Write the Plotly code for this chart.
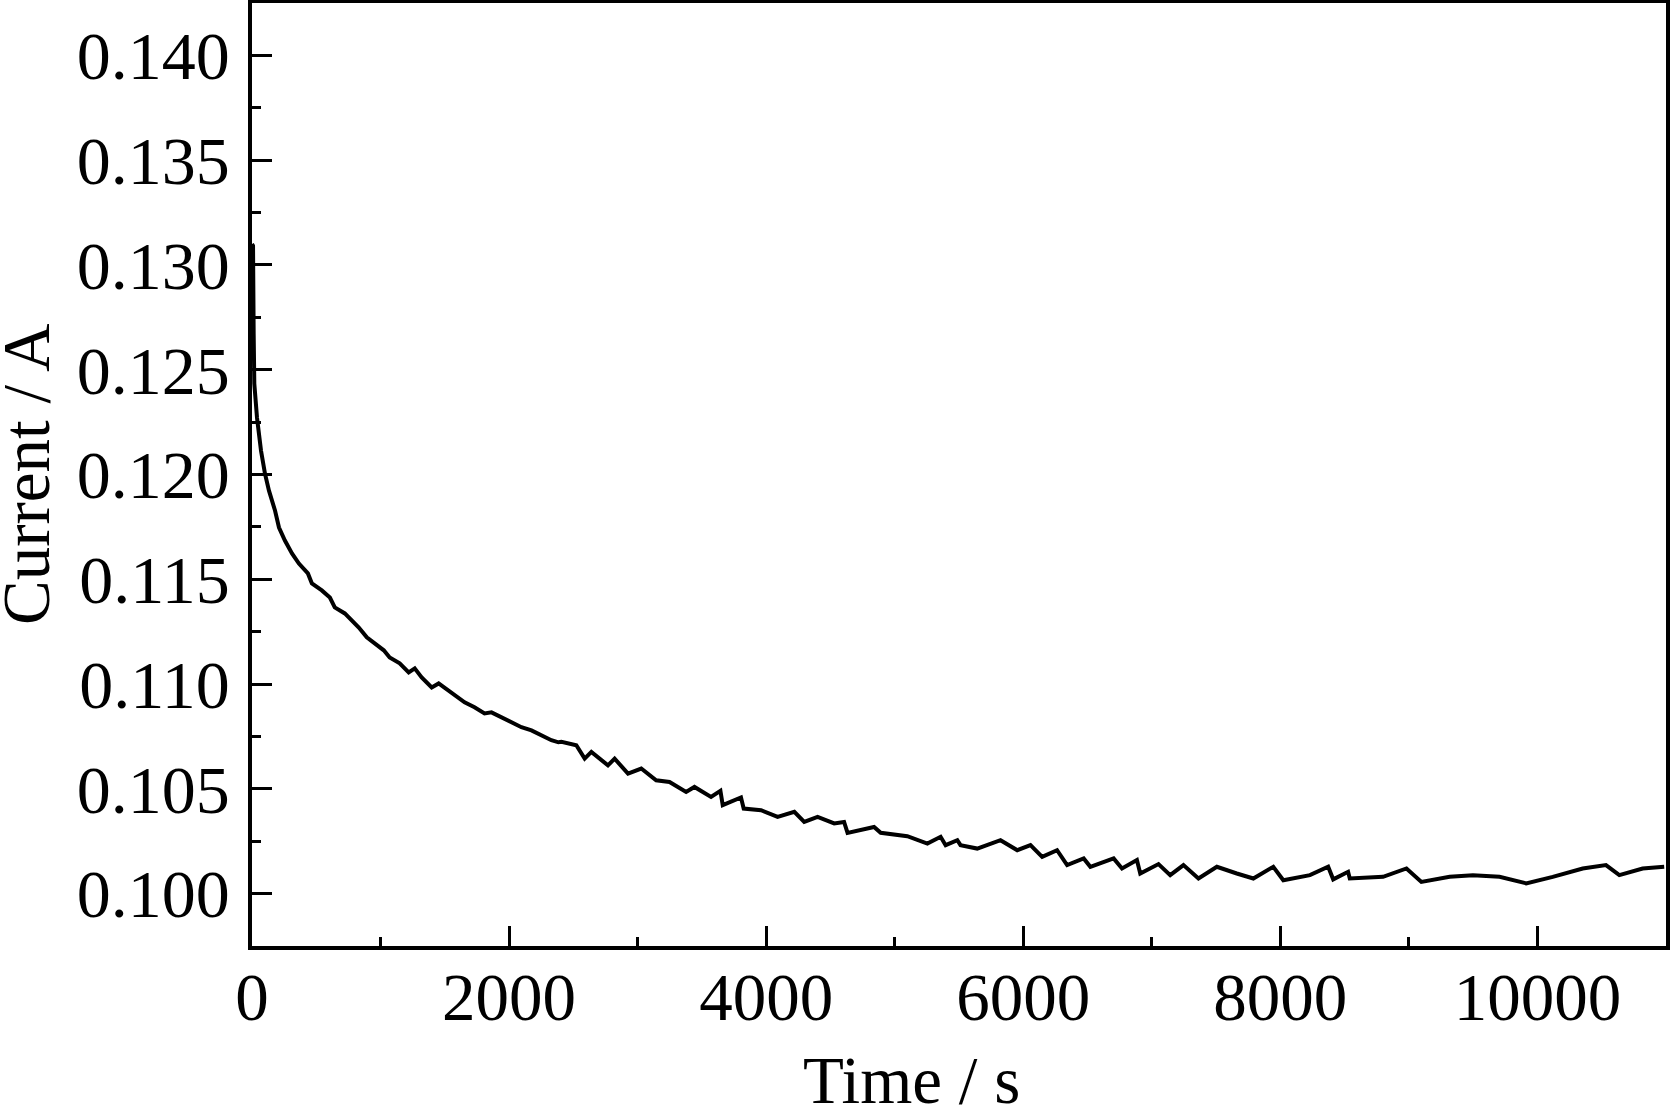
import plotly.graph_objects as go

time_s = [0, 8, 13, 18, 39, 70, 101, 132, 179, 210, 256, 311, 365, 435, 466, 543, 606, 644, 722, 776,
          831, 893, 955, 1025, 1071, 1149, 1219, 1266, 1320, 1398, 1452, 1530, 1607, 1654, 1731, 1809,
          1863, 1941, 2019, 2096, 2174, 2252, 2329, 2384, 2407, 2523, 2588, 2640, 2769, 2821, 2925,
          3028, 3144, 3248, 3377, 3442, 3571, 3644, 3662, 3804, 3825, 3960, 4089, 4219, 4296, 4400,
          4529, 4606, 4633, 4839, 4891, 5098, 5254, 5357, 5396, 5487, 5512, 5642, 5823, 5953, 6056,
          6147, 6263, 6341, 6470, 6522, 6703, 6768, 6884, 6910, 7052, 7143, 7246, 7363, 7506, 7661,
          7790, 7945, 8023, 8230, 8372, 8411, 8527, 8540, 8799, 8981, 9097, 9317, 9498, 9705, 9912,
          10119, 10352, 10533, 10637, 10818, 10986]

current_a = [0.1310, 0.13091, 0.12672, 0.12433, 0.12271, 0.12114, 0.12004, 0.11923, 0.11828, 0.11747,
             0.11685, 0.11623, 0.11575, 0.11528, 0.11480, 0.11447, 0.11413, 0.11366, 0.11337, 0.11304,
             0.11270, 0.11223, 0.11194, 0.11161, 0.11127, 0.11099, 0.11056, 0.11075, 0.11032, 0.10984,
             0.11003, 0.10970, 0.10937, 0.10913, 0.10889, 0.10860, 0.10865, 0.10841, 0.10817, 0.10794,
             0.10779, 0.10755, 0.10732, 0.10722, 0.10724, 0.10708, 0.10644, 0.10676, 0.10612, 0.10644,
             0.10573, 0.10597, 0.10541, 0.10533, 0.10485, 0.10509, 0.10461, 0.10490, 0.10422, 0.10459,
             0.10406, 0.10398, 0.10366, 0.10390, 0.10342, 0.10366, 0.10335, 0.10342, 0.10290, 0.10318,
             0.10290, 0.10274, 0.10239, 0.10271, 0.10231, 0.10255, 0.10231, 0.10215, 0.10255, 0.10207,
             0.10231, 0.10175, 0.10207, 0.10136, 0.10168, 0.10128, 0.10168, 0.10120, 0.10160, 0.10096,
             0.10141, 0.10088, 0.10136, 0.10072, 0.10128, 0.10096, 0.10072, 0.10128, 0.10064, 0.10088,
             0.10128, 0.10068, 0.10104, 0.10072, 0.10080, 0.10120, 0.10056, 0.10080, 0.10088, 0.10080,
             0.10049, 0.10080, 0.10120, 0.10136, 0.10088, 0.10120, 0.10128]

x_ticks = [0, 2000, 4000, 6000, 8000, 10000]
y_ticks = [0.100, 0.105, 0.110, 0.115, 0.120, 0.125, 0.130, 0.135, 0.140]
x_title = "Time / s"
y_title = "Current / A"

FONT = "Liberation Serif, Times New Roman, serif"

fig = go.Figure()
fig.add_trace(go.Scatter(x=time_s, y=current_a, mode="lines",
                         line=dict(color="black", width=4), showlegend=False))

fig.update_layout(
    width=1670, height=1105,
    margin=dict(l=252, r=4, t=3, b=159, autoexpand=False),
    paper_bgcolor="white", plot_bgcolor="white",
    font=dict(family=FONT, size=67, color="black"),
    annotations=[
        dict(text=x_title, xref="paper", yref="paper", x=0.4665, y=-0.1425,
             xanchor="center", yanchor="middle", showarrow=False,
             font=dict(family=FONT, size=67, color="black")),
        dict(text=y_title, xref="paper", yref="paper", x=-0.1598, y=0.4995,
             xanchor="center", yanchor="middle", showarrow=False, textangle=-90,
             font=dict(family=FONT, size=67, color="black")),
    ],
)
fig.update_xaxes(
    range=[0, 11000], tickvals=x_ticks, ticktext=[str(v) for v in x_ticks],
    ticks="inside", ticklen=20, tickwidth=3, tickcolor="black",
    minor=dict(dtick=1000, ticks="inside", ticklen=9, tickwidth=3, tickcolor="black", showgrid=False),
    showline=True, linewidth=3.5, linecolor="black", mirror=True,
    showgrid=False, zeroline=False, automargin=False,
    tickfont=dict(family=FONT, size=67), ticklabelstandoff=-10,
)
fig.update_yaxes(
    range=[0.0975, 0.1425], tickvals=y_ticks, ticktext=[f"{v:.3f}" for v in y_ticks],
    ticks="inside", ticklen=20, tickwidth=3, tickcolor="black",
    minor=dict(dtick=0.0025, tick0=0.0975, ticks="inside", ticklen=9, tickwidth=3, tickcolor="black", showgrid=False),
    showline=True, linewidth=3.5, linecolor="black", mirror=True,
    showgrid=False, zeroline=False, automargin=False,
    tickfont=dict(family=FONT, size=68), ticklabelstandoff=5,
)

fig.write_html("out.html", config={"displayModeBar": False},
               post_script="document.body.style.margin='0px';document.body.style.overflow='hidden';")
